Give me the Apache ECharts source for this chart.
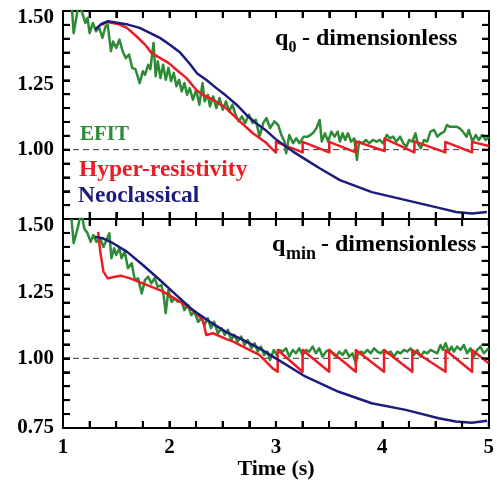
<!DOCTYPE html>
<html><head><meta charset="utf-8">
<script src="https://cdn.jsdelivr.net/npm/echarts@6/dist/echarts.min.js"></script>
<style>html,body{margin:0;padding:0;background:#fff}#c{width:497px;height:486px}</style>
</head><body><div id="c"></div>
<script>
const timeRange = [1, 5];
const qRange = [0.75, 1.5];
const xTickLabels = ['1', '2', '3', '4', '5'];
const yTickLabels = ['0.75', '1.00', '1.25', '1.50'];
const xTickMarks = [1, 1.25, 1.5, 1.75, 2, 2.25, 2.5, 2.75, 3, 3.25, 3.5, 3.75, 4, 4.25, 4.5, 4.75, 5];
const yTickMarks = [0.75, 0.8, 0.85, 0.9, 0.95, 1.0, 1.05, 1.1, 1.15, 1.2, 1.25, 1.3, 1.35, 1.4, 1.45, 1.5];
const seriesNames = ['EFIT', 'Hyper-resistivity', 'Neoclassical'];
const panelTitles = [['q', '0', '- dimensionless'], ['q', 'min', '- dimensionless']];
const xAxisTitle = 'Time (s)';
const refLevel = 1.0;

// Top panel: q0
const q0_efit = [[1.08,1.53],[1.10,1.42],[1.13,1.487],[1.15,1.53],[1.175,1.50],[1.21,1.457],[1.23,1.475],[1.25,1.42],[1.28,1.457],[1.31,1.427],[1.34,1.44],[1.37,1.403],[1.40,1.445],[1.42,1.45],[1.45,1.355],[1.47,1.39],[1.50,1.367],[1.53,1.397],[1.56,1.355],[1.59,1.33],[1.62,1.343],[1.65,1.295],[1.68,1.29],[1.72,1.24],[1.75,1.283],[1.77,1.27],[1.80,1.306],[1.82,1.29],[1.85,1.385],[1.87,1.265],[1.89,1.319],[1.915,1.258],[1.94,1.306],[1.965,1.252],[1.99,1.295],[2.015,1.247],[2.04,1.277],[2.065,1.229],[2.09,1.252],[2.115,1.21],[2.14,1.24],[2.165,1.198],[2.19,1.222],[2.22,1.18],[2.25,1.216],[2.28,1.162],[2.31,1.24],[2.33,1.174],[2.36,1.198],[2.38,1.156],[2.41,1.192],[2.44,1.15],[2.47,1.186],[2.50,1.144],[2.53,1.174],[2.56,1.138],[2.59,1.162],[2.62,1.126],[2.65,1.102],[2.68,1.12],[2.71,1.096],[2.745,1.126],[2.78,1.096],[2.81,1.108],[2.845,1.048],[2.88,1.096],[2.91,1.114],[2.945,1.078],[2.985,1.102],[3.02,1.089],[3.05,1.053],[3.08,1.029],[3.095,0.987],[3.125,1.053],[3.16,1.023],[3.19,1.041],[3.22,1.023],[3.26,1.047],[3.30,1.047],[3.345,1.059],[3.38,1.077],[3.41,1.107],[3.43,1.029],[3.46,1.059],[3.49,1.029],[3.52,1.065],[3.55,1.047],[3.58,1.065],[3.60,1.029],[3.625,1.059],[3.65,1.035],[3.675,1.059],[3.705,1.029],[3.735,1.041],[3.76,0.963],[3.78,1.029],[3.81,1.023],[3.845,1.035],[3.875,1.023],[3.91,1.035],[3.945,1.029],[3.975,1.035],[4.005,1.023],[4.04,1.053],[4.07,1.041],[4.10,1.047],[4.13,1.029],[4.165,1.047],[4.195,1.023],[4.225,1.011],[4.25,1.035],[4.28,1.029],[4.31,1.059],[4.33,1.023],[4.36,1.005],[4.39,1.035],[4.42,1.029],[4.45,1.065],[4.485,1.071],[4.515,1.047],[4.55,1.059],[4.58,1.065],[4.605,1.089],[4.63,1.083],[4.66,1.083],[4.695,1.083],[4.725,1.077],[4.755,1.065],[4.79,1.047],[4.81,1.071],[4.845,1.029],[4.875,1.053],[4.905,1.035],[4.935,1.053],[4.97,1.035],[5.0,1.047]];
const q0_hyper = [[1.36,1.45],[1.41,1.46],[1.52,1.453],[1.60,1.439],[1.69,1.409],[1.77,1.379],[1.83,1.349],[1.91,1.331],[1.99,1.313],[2.065,1.288],[2.16,1.258],[2.25,1.216],[2.31,1.198],[2.41,1.18],[2.53,1.15],[2.66,1.102],[2.78,1.06],[2.91,1.024],[2.97,1.0],[3.0,0.99],[3.0,1.028],[3.25,0.99],[3.25,1.028],[3.50,0.99],[3.50,1.028],[3.75,0.99],[3.75,1.03],[4.02,0.995],[4.02,1.04],[4.30,0.99],[4.30,1.03],[4.59,0.99],[4.59,1.028],[4.84,0.99],[4.84,1.028],[5.0,1.013]];
const q0_neo = [[1.30,1.433],[1.36,1.453],[1.425,1.463],[1.52,1.457],[1.61,1.451],[1.72,1.439],[1.815,1.421],[1.91,1.403],[2.0,1.379],[2.10,1.35],[2.19,1.31],[2.26,1.275],[2.35,1.25],[2.44,1.222],[2.53,1.195],[2.63,1.162],[2.72,1.126],[2.81,1.096],[2.91,1.068],[3.0,1.037],[3.16,0.993],[3.31,0.957],[3.41,0.933],[3.60,0.89],[3.90,0.847],[4.22,0.818],[4.53,0.79],[4.69,0.775],[4.84,0.77],[4.98,0.775]];

// Bottom panel: qmin
const qmin_efit = [[1.08,1.50],[1.10,1.413],[1.145,1.478],[1.17,1.53],[1.20,1.466],[1.23,1.449],[1.26,1.418],[1.285,1.442],[1.315,1.418],[1.35,1.43],[1.38,1.40],[1.41,1.425],[1.435,1.449],[1.455,1.359],[1.48,1.395],[1.50,1.371],[1.53,1.395],[1.55,1.359],[1.58,1.383],[1.61,1.323],[1.645,1.341],[1.675,1.281],[1.705,1.287],[1.74,1.233],[1.77,1.281],[1.80,1.293],[1.83,1.269],[1.86,1.287],[1.89,1.257],[1.925,1.263],[1.945,1.227],[1.965,1.162],[1.99,1.245],[2.02,1.203],[2.05,1.215],[2.08,1.203],[2.11,1.209],[2.14,1.173],[2.175,1.191],[2.205,1.155],[2.235,1.167],[2.27,1.131],[2.30,1.144],[2.33,1.12],[2.36,1.144],[2.39,1.108],[2.42,1.131],[2.455,1.09],[2.49,1.108],[2.52,1.084],[2.55,1.102],[2.58,1.066],[2.61,1.084],[2.64,1.06],[2.675,1.078],[2.705,1.048],[2.735,1.066],[2.77,1.036],[2.80,1.054],[2.83,1.024],[2.86,1.042],[2.89,1.012],[2.92,1.024],[2.945,0.994],[2.98,1.03],[3.01,1.012],[3.033,1.030],[3.064,1.024],[3.095,1.036],[3.126,1.006],[3.158,1.030],[3.189,1.018],[3.220,1.036],[3.251,1.012],[3.283,1.030],[3.314,1.024],[3.345,1.042],[3.376,1.018],[3.407,1.036],[3.439,1.006],[3.470,1.024],[3.501,1.030],[3.532,1.018],[3.564,1.006],[3.595,1.024],[3.626,1.012],[3.657,1.030],[3.688,1.006],[3.720,1.018],[3.751,0.982],[3.767,1.012],[3.798,1.024],[3.829,1.018],[3.860,1.030],[3.891,1.018],[3.923,1.036],[3.954,1.024],[3.985,1.018],[4.016,1.030],[4.048,1.018],[4.079,1.024],[4.110,1.006],[4.141,1.024],[4.172,1.018],[4.204,1.030],[4.235,1.024],[4.266,1.036],[4.297,1.012],[4.329,1.030],[4.360,1.006],[4.391,1.024],[4.422,1.018],[4.453,1.030],[4.485,1.024],[4.516,1.018],[4.547,1.048],[4.569,1.030],[4.594,1.054],[4.625,1.024],[4.650,1.042],[4.672,1.024],[4.703,1.042],[4.734,1.030],[4.766,1.048],[4.797,1.018],[4.828,1.036],[4.859,1.006],[4.891,1.030],[4.922,1.042],[4.953,1.018],[4.985,1.030],[5.0,1.036]];
const qmin_hyper = [[1.33,1.454],[1.35,1.383],[1.38,1.311],[1.42,1.287],[1.49,1.293],[1.55,1.296],[1.63,1.287],[1.75,1.269],[1.91,1.245],[1.97,1.233],[2.07,1.21],[2.22,1.173],[2.315,1.137],[2.346,1.084],[2.41,1.09],[2.53,1.07],[2.60,1.06],[2.75,1.03],[2.845,1.012],[2.97,0.964],[3.017,0.952],[3.017,1.03],[3.251,0.952],[3.251,1.03],[3.501,0.952],[3.501,1.03],[3.751,0.952],[3.751,1.03],[4.016,0.952],[4.016,1.03],[4.282,0.952],[4.282,1.03],[4.594,0.952],[4.594,1.03],[4.844,0.952],[4.844,1.03],[5.0,0.982]];
const qmin_neo = [[1.30,1.436],[1.38,1.43],[1.47,1.413],[1.60,1.383],[1.75,1.335],[1.91,1.281],[2.065,1.227],[2.22,1.173],[2.38,1.131],[2.53,1.095],[2.69,1.066],[2.845,1.036],[3.0,1.0],[3.28,0.934],[3.59,0.88],[3.90,0.839],[4.22,0.815],[4.53,0.785],[4.69,0.773],[4.84,0.769],[4.985,0.776]];

const FONT = '"Liberation Serif","Times New Roman",serif';
const C_G = '#2e8b35', C_R = '#ec1c24', C_B = '#1c1c7c';
const BLACK = '#000';
const TICK = 7;
const labelFont = { color: BLACK, fontFamily: FONT, fontWeight: 'bold', fontSize: 21 };

function near(v, step) { return Math.abs(v / step - Math.round(v / step)) < 1e-6; }

function xAx(gi, pos, labels) {
  return {
    type: 'value', gridIndex: gi, position: pos, min: timeRange[0], max: timeRange[1], interval: 0.25,
    axisLine: { show: true, onZero: false, lineStyle: { color: BLACK, width: 2 } },
    axisTick: { show: true, inside: true, length: TICK, lineStyle: { color: BLACK, width: 2 } },
    splitLine: { show: false },
    axisLabel: Object.assign({ show: labels, margin: 9,
      formatter: v => near(v, 1) ? xTickLabels[Math.round(v - timeRange[0])] : '' }, labelFont)
  };
}
function yAx(gi, pos, labels, showMin) {
  return {
    type: 'value', gridIndex: gi, position: pos, min: qRange[0], max: qRange[1], interval: 0.05,
    axisLine: { show: true, onZero: false, lineStyle: { color: BLACK, width: 2 } },
    axisTick: { show: true, inside: true, length: TICK, lineStyle: { color: BLACK, width: 2 } },
    splitLine: { show: false },
    axisLabel: Object.assign({ show: labels, showMinLabel: showMin, margin: 9,
      formatter: v => {
        if (!near(v, 0.25)) return '';
        const k = Math.round((v - qRange[0]) / 0.25);
        const s = yTickLabels[k];
        if (k === 3) return '{d7|' + s + '}';
        if (k === 2) return '{d4|' + s + '}';
        return s;
      },
      rich: {
        d7: Object.assign({ padding: [13, 0, 0, 0] }, labelFont),
        d4: Object.assign({ padding: [8, 0, 0, 0] }, labelFont)
      } }, labelFont)
  };
}
function lineSeries(name, data, color, gi, z) {
  return { type: 'line', name, data, xAxisIndex: gi * 2, yAxisIndex: gi * 2, symbol: 'none', showSymbol: false,
    clip: true, z, lineStyle: { color, width: 2.5, join: 'round' }, itemStyle: { color } };
}
function refSeries(gi) {
  return { type: 'line', data: [[timeRange[0], refLevel], [timeRange[1], refLevel]], xAxisIndex: gi * 2, yAxisIndex: gi * 2,
    symbol: 'none', z: 1, lineStyle: { color: '#333', width: 1, type: [6, 4] } };
}
function txt(x, y, text, size, color) {
  return { type: 'text', x, y, z: 100, style: { text, fontFamily: FONT, fontWeight: 'bold', fontSize: size, fill: color, verticalAlign: 'middle', align: 'left' } };
}

const textGraphics = [
  txt(275, 39, panelTitles[0][0], 24, BLACK),
  txt(288.5, 48, panelTitles[0][1], 16, BLACK),
  txt(302, 39, panelTitles[0][2], 24, BLACK),
  txt(272, 245, panelTitles[1][0], 24, BLACK),
  txt(286, 254, panelTitles[1][1], 18, BLACK),
  txt(321, 245, panelTitles[1][2], 24, BLACK),
  txt(80, 134.5, seriesNames[0], 21, C_G),
  txt(79, 169.5, seriesNames[1], 23.5, C_R),
  txt(78, 195.5, seriesNames[2], 23.5, C_B),
  { type: 'text', x: 276, y: 469, z: 100, style: { text: xAxisTitle, fontFamily: FONT, fontWeight: 'bold', fontSize: 22, fill: BLACK, verticalAlign: 'middle', align: 'center' } }
];

const option = {
  animation: false,
  backgroundColor: '#fff',
  grid: [
    { left: 63, right: 8, top: 11, height: 208 },
    { left: 63, right: 8, top: 219, height: 209 }
  ],
  xAxis: [xAx(0, 'bottom', false), xAx(0, 'top', false), xAx(1, 'bottom', true), xAx(1, 'top', false)],
  yAxis: [yAx(0, 'left', true, false), yAx(0, 'right', false, false), yAx(1, 'left', true, true), yAx(1, 'right', false, true)],
  series: [
    refSeries(0), refSeries(1),
    lineSeries(seriesNames[0], q0_efit, C_G, 0, 2), lineSeries(seriesNames[1], q0_hyper, C_R, 0, 3), lineSeries(seriesNames[2], q0_neo, C_B, 0, 4),
    lineSeries(seriesNames[0], qmin_efit, C_G, 1, 2), lineSeries(seriesNames[1], qmin_hyper, C_R, 1, 3), lineSeries(seriesNames[2], qmin_neo, C_B, 1, 4)
  ],
  graphic: { elements: textGraphics }
};
const chart = echarts.init(document.getElementById('c'), null, { renderer: 'canvas' });
chart.setOption(option);

// Inward tick marks on all four sides of each panel, positioned through the axis scales.
const tickGraphics = [];
const tickStyle = { stroke: BLACK, lineWidth: 2 };
[0, 1].forEach(gi => {
  xTickMarks.forEach(t => {
    const a = chart.convertToPixel({ xAxisIndex: gi * 2, yAxisIndex: gi * 2 }, [t, qRange[0]]);
    const b = chart.convertToPixel({ xAxisIndex: gi * 2, yAxisIndex: gi * 2 }, [t, qRange[1]]);
    tickGraphics.push({ type: 'line', z: 100, silent: true, shape: { x1: a[0], y1: a[1], x2: a[0], y2: a[1] - TICK }, style: tickStyle });
    tickGraphics.push({ type: 'line', z: 100, silent: true, shape: { x1: b[0], y1: b[1], x2: b[0], y2: b[1] + TICK }, style: tickStyle });
  });
  yTickMarks.forEach(v => {
    const a = chart.convertToPixel({ xAxisIndex: gi * 2, yAxisIndex: gi * 2 }, [timeRange[0], v]);
    const b = chart.convertToPixel({ xAxisIndex: gi * 2, yAxisIndex: gi * 2 }, [timeRange[1], v]);
    tickGraphics.push({ type: 'line', z: 100, silent: true, shape: { x1: a[0], y1: a[1], x2: a[0] + TICK, y2: a[1] }, style: tickStyle });
    tickGraphics.push({ type: 'line', z: 100, silent: true, shape: { x1: b[0], y1: b[1], x2: b[0] - TICK, y2: b[1] }, style: tickStyle });
  });
});
chart.setOption({ graphic: { elements: textGraphics.concat(tickGraphics) } });
</script></body></html>
